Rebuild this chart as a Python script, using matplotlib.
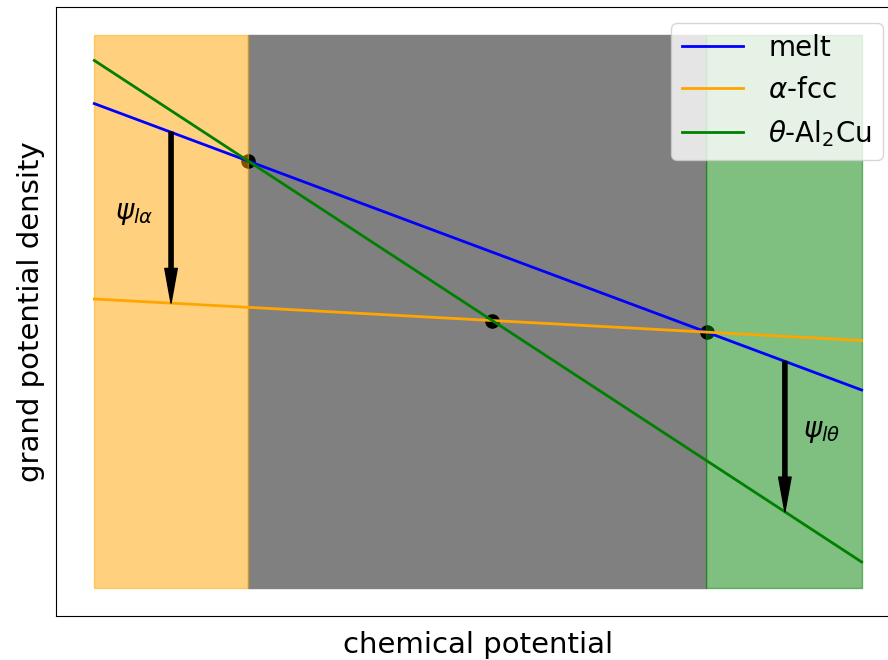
import matplotlib
matplotlib.use('Agg')
import matplotlib.pyplot as plt
import numpy as np

FS = 20

# phase boundaries along the chemical potential axis
bounds = [0.0, 0.2, 0.797, 1.0]
# grand potential density of each phase at mu = 0 and mu = 1
mu_ends = np.array([0.0, 1.0])
melt = np.array([0.876, 0.358])
fcc = np.array([0.5226, 0.4475])
theta = np.array([0.954, 0.047])
# arrow positions
arrow_mu = [0.1, 0.9]


def line_at(vals, mu):
    return np.interp(mu, mu_ends, vals)


def crossing(a, b):
    # mu where two straight lines meet
    sa = a[1] - a[0]
    sb = b[1] - b[0]
    mu = (b[0] - a[0]) / (sa - sb)
    return mu, a[0] + sa * mu


fig = plt.figure(figsize=(8.88, 6.6), dpi=100)
ax = fig.add_axes([0.063, 0.0673, 0.9505, 0.9215])

ax.fill_between(bounds[1:3], 0, 1, color='gray', zorder=1)

pts = [crossing(melt, theta), crossing(fcc, theta), crossing(melt, fcc)]
ax.scatter([p[0] for p in pts], [p[1] for p in pts], s=90, c='black', zorder=2)

ax.fill_between(bounds[0:2], 0, 1, color='orange', alpha=0.5, zorder=3)
ax.fill_between(bounds[2:4], 0, 1, color='green', alpha=0.5, zorder=3)

ax.plot(mu_ends, melt, color='blue', lw=2, label='melt', zorder=4)
ax.plot(mu_ends, fcc, color='orange', lw=2, label=r'$\alpha$-fcc', zorder=4)
ax.plot(mu_ends, theta, color='green', lw=2, label=r'$\theta$-Al$_2$Cu', zorder=4)

aprops = dict(facecolor='black', edgecolor='black', width=3, headwidth=9,
              headlength=25, shrink=0.0)
ax.annotate('', xy=(arrow_mu[0], line_at(fcc, arrow_mu[0])),
            xytext=(arrow_mu[0], line_at(melt, arrow_mu[0])),
            arrowprops=aprops, zorder=5)
ax.annotate('', xy=(arrow_mu[1], line_at(theta, arrow_mu[1])),
            xytext=(arrow_mu[1], line_at(melt, arrow_mu[1])),
            arrowprops=aprops, zorder=5)
ax.text(0.052, 0.678, r'$\psi_{l\alpha}$', fontsize=FS, ha='center', va='center', zorder=6)
ax.text(0.948, 0.284, r'$\psi_{l\theta}$', fontsize=FS, ha='center', va='center', zorder=6)

ax.set_xticks([])
ax.set_yticks([])
ax.set_xlabel('chemical potential', fontsize=21, labelpad=11)
ax.set_ylabel('grand potential density', fontsize=21, labelpad=8)
ax.legend(loc='upper right', fontsize=FS, handlelength=2.2, handletextpad=0.9,
          bbox_to_anchor=(883 / 888, 637 / 660), bbox_transform=fig.transFigure,
          borderaxespad=0)

fig.savefig('out.png', dpi=100)
